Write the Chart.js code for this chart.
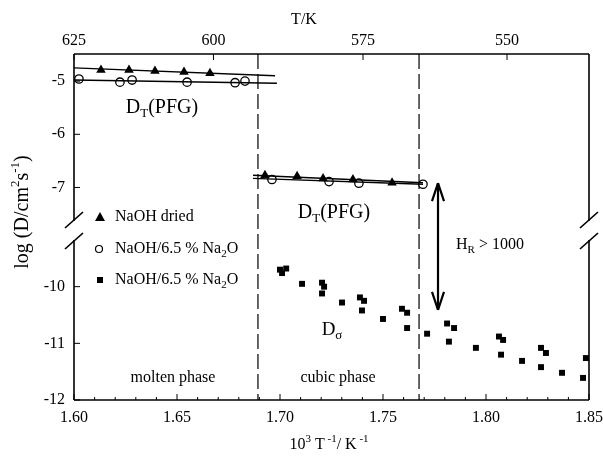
<!DOCTYPE html>
<html>
<head>
<meta charset="utf-8">
<script src="https://cdn.jsdelivr.net/npm/chart.js@4.4.1/dist/chart.umd.min.js"></script>
<style>
  html, body { margin: 0; padding: 0; background: #fff; }
  #contenedor { width: 603px; height: 458px; }
</style>
</head>
<body>
<div id="contenedor"><canvas id="grafico"></canvas></div>
<script>
// NaOH seco (triangulos), fase fundida y fase cubica
const trianguloX = [1.6131, 1.6267, 1.6393, 1.6534, 1.666, 1.6927, 1.7083, 1.7209, 1.7354, 1.7544];
const trianguloY = [-4.79, -4.79, -4.81, -4.83, -4.85, -6.77, -6.79, -6.83, -6.85, -6.91];
// NaOH/6.5 % Na2O (circulos abiertos)
const circuloX = [1.6024, 1.6223, 1.6282, 1.6549, 1.6782, 1.683, 1.6961, 1.7238, 1.7383, 1.7694];
const circuloY = [-4.96, -5.02, -4.98, -5.02, -5.03, -5.0, -6.85, -6.89, -6.92, -6.94];
// D sigma (cuadrados)
const cuadradoX = [1.7, 1.703, 1.701, 1.7107, 1.7204, 1.7214, 1.7204, 1.7301, 1.7388, 1.7408,
  1.7398, 1.75, 1.7592, 1.7617, 1.7617, 1.7714, 1.7811, 1.7845, 1.782, 1.7951,
  1.8063, 1.8083, 1.8073, 1.8175, 1.8267, 1.8291, 1.8267, 1.8369, 1.8485, 1.8471];
const cuadradoY = [-9.7, -9.68, -9.76, -9.95, -9.93, -10.0, -10.12, -10.28, -10.19, -10.25,
  -10.42, -10.57, -10.39, -10.46, -10.73, -10.83, -10.65, -10.73, -10.97, -11.08,
  -10.88, -10.94, -11.2, -11.31, -11.08, -11.17, -11.42, -11.52, -11.26, -11.61];

// rectas de ajuste (extremos)
const ajusteFundidoTriX = [1.6, 1.6976];
const ajusteFundidoTriY = [-4.75, -4.9];
const ajusteFundidoCircX = [1.6, 1.6985];
const ajusteFundidoCircY = [-4.98, -5.04];
const ajusteCubicoTriX = [1.6869, 1.7694];
const ajusteCubicoTriY = [-6.77, -6.91];
const ajusteCubicoCircX = [1.6869, 1.7694];
const ajusteCubicoCircY = [-6.83, -6.94];

// transiciones de fase y flecha H_R
const transiciones = [1.6893, 1.7675];
const flechaX = 1.7767;
const flechaArriba = -6.92;
const flechaAbajo = -10.41;

// ejes
const ticksX = [1.6, 1.65, 1.7, 1.75, 1.8, 1.85];
const posicionesT = [1.6, 1.6677, 1.7403, 1.8102];
const etiquetasT = ["625", "600", "575", "550"];
const ticksArriba = [-5, -6, -7];
const ticksAbajo = [-10, -11, -12];

const fuente = "Liberation Serif, Times New Roman, serif";
Chart.defaults.font.family = fuente;
Chart.defaults.font.size = 16;
Chart.defaults.color = "#000";

const puntos = (xs, ys) => xs.map((x, i) => ({ x: x, y: ys[i] }));

// texto con subindices / superindices: [texto, modo] modo 1 = sup, -1 = sub
const textoRico = (ctx, partes, x, y, size) => {
  const anchos = partes.map(([t, m]) => {
    ctx.font = `${m ? Math.round(size * 0.66) : size}px ${fuente}`;
    return ctx.measureText(t).width;
  });
  let cx = x - anchos.reduce((a, b) => a + b, 0) / 2;
  ctx.textAlign = "left";
  ctx.textBaseline = "middle";
  partes.forEach(([t, m], i) => {
    ctx.font = `${m ? Math.round(size * 0.66) : size}px ${fuente}`;
    const dy = m === 1 ? -size * 0.36 : m === -1 ? size * 0.3 : 0;
    ctx.fillText(t, cx, y + dy);
    cx += anchos[i];
  });
};

const linea = (ctx, x1, y1, x2, y2) => {
  ctx.beginPath();
  ctx.moveTo(x1, y1);
  ctx.lineTo(x2, y2);
  ctx.stroke();
};

// sin relleno extra por las etiquetas de los extremos
const sinRelleno = (s) => {
  s.paddingLeft = 0;
  s.paddingRight = 0;
  s.paddingTop = 0;
  s.paddingBottom = 0;
};

const decorado = {
  id: "decorado",
  beforeDatasetsDraw(chart) {
    const { ctx, chartArea: a, scales } = chart;
    ctx.save();
    ctx.strokeStyle = "#000";
    ctx.lineWidth = 1.2;
    ctx.setLineDash([15, 5]);
    transiciones.forEach((t) => {
      const x = scales.x.getPixelForValue(t);
      linea(ctx, x, a.top, x, a.bottom);
    });
    ctx.restore();
  },
  afterDraw(chart) {
    const { ctx, chartArea: a, scales } = chart;
    const sx = scales.x;
    const corte = scales.yArriba.bottom;
    ctx.save();
    ctx.strokeStyle = "#000";
    ctx.fillStyle = "#000";
    ctx.lineWidth = 1.6;
    // marco con el corte del eje
    linea(ctx, a.left, a.top, a.right, a.top);
    linea(ctx, a.left, a.bottom, a.right, a.bottom);
    [a.left, a.right].forEach((x) => {
      linea(ctx, x, a.top, x, corte - 9);
      linea(ctx, x, corte + 10, x, a.bottom);
      linea(ctx, x - 9, corte - 2, x + 9, corte - 18);
      linea(ctx, x - 9, corte + 19, x + 9, corte + 3);
    });
    // marcas hacia adentro
    ctx.lineWidth = 1;
    for (let i = 0; i <= 25; i++) {
      const x = sx.getPixelForValue(1.6 + i * 0.01);
      linea(ctx, x, a.bottom, x, a.bottom - (i % 5 === 0 ? 6 : 3));
    }
    posicionesT.forEach((v) => {
      const x = sx.getPixelForValue(v);
      linea(ctx, x, a.top, x, a.top + 6);
    });
    ticksArriba.forEach((v) => {
      const y = scales.yArriba.getPixelForValue(v);
      linea(ctx, a.left, y, a.left + 6, y);
    });
    ticksAbajo.forEach((v) => {
      const y = scales.yAbajo.getPixelForValue(v);
      linea(ctx, a.left, y, a.left + 6, y);
    });

    // flecha doble H_R
    const fx = sx.getPixelForValue(flechaX);
    const f1 = scales.yArriba.getPixelForValue(flechaArriba);
    const f2 = scales.yAbajo.getPixelForValue(flechaAbajo);
    ctx.lineWidth = 2.2;
    linea(ctx, fx, f1, fx, f2);
    linea(ctx, fx - 6, f1 + 18, fx, f1);
    linea(ctx, fx + 6, f1 + 18, fx, f1);
    linea(ctx, fx - 6, f2 - 18, fx, f2);
    linea(ctx, fx + 6, f2 - 18, fx, f2);

    // textos
    textoRico(ctx, [["D", 0], ["T", -1], ["(PFG)", 0]], 162, 108, 20);
    textoRico(ctx, [["D", 0], ["T", -1], ["(PFG)", 0]], 334, 213, 20);
    textoRico(ctx, [["H", 0], ["R", -1], [" > 1000", 0]], 490, 245, 16);
    textoRico(ctx, [["D", 0], ["σ", -1]], 332, 330, 19);
    textoRico(ctx, [["molten phase", 0]], 173, 378, 16);
    textoRico(ctx, [["cubic phase", 0]], 338, 378, 16);
    textoRico(ctx, [["T/K", 0]], 304, 20, 16);
    textoRico(ctx, [["10", 0], ["3", 1], [" T", 0], [" -1", 1], ["/ K", 0], [" -1", 1]], 329, 445, 16);
    ctx.save();
    ctx.translate(23, 212);
    ctx.rotate(-Math.PI / 2);
    textoRico(ctx, [["log (D/cm", 0], ["2", 1], ["s", 0], ["-1", 1], [")", 0]], 0, 0, 20);
    ctx.restore();

    // leyenda
    const filas = [
      { y: 217, partes: [["NaOH dried", 0]] },
      { y: 249, partes: [["NaOH/6.5 % Na", 0], ["2", -1], ["O", 0]] },
      { y: 280, partes: [["NaOH/6.5 % Na", 0], ["2", -1], ["O", 0]] },
    ];
    ctx.lineWidth = 1.2;
    ctx.beginPath();
    ctx.moveTo(100, 212);
    ctx.lineTo(105, 221);
    ctx.lineTo(95, 221);
    ctx.closePath();
    ctx.fill();
    ctx.beginPath();
    ctx.arc(99, 249, 3.5, 0, Math.PI * 2);
    ctx.stroke();
    ctx.fillRect(97, 277, 6, 6);
    filas.forEach((f) => {
      const anchos = f.partes.map(([t, m]) => {
        ctx.font = `${m ? 11 : 16}px ${fuente}`;
        return ctx.measureText(t).width;
      });
      const total = anchos.reduce((p, q) => p + q, 0);
      textoRico(ctx, f.partes, 115 + total / 2, f.y, 16);
    });
    ctx.restore();
  },
};

const data = {
  datasets: [
    { type: "line", data: puntos(ajusteFundidoTriX, ajusteFundidoTriY), yAxisID: "yArriba", borderColor: "#000", borderWidth: 1.4, pointRadius: 0 },
    { type: "line", data: puntos(ajusteFundidoCircX, ajusteFundidoCircY), yAxisID: "yArriba", borderColor: "#000", borderWidth: 1.4, pointRadius: 0 },
    { type: "line", data: puntos(ajusteCubicoTriX, ajusteCubicoTriY), yAxisID: "yArriba", borderColor: "#000", borderWidth: 1.4, pointRadius: 0 },
    { type: "line", data: puntos(ajusteCubicoCircX, ajusteCubicoCircY), yAxisID: "yArriba", borderColor: "#000", borderWidth: 1.4, pointRadius: 0 },
    {
      label: "NaOH dried",
      data: puntos(trianguloX, trianguloY),
      yAxisID: "yArriba",
      pointStyle: "triangle",
      pointRadius: 5.5,
      backgroundColor: "#000",
      borderColor: "#000",
      borderWidth: 0,
    },
    {
      label: "NaOH/6.5 % Na2O",
      data: puntos(circuloX, circuloY),
      yAxisID: "yArriba",
      pointStyle: "circle",
      pointRadius: 4.2,
      backgroundColor: "#fff",
      borderColor: "#000",
      borderWidth: 1.3,
    },
    {
      label: "NaOH/6.5 % Na2O",
      data: puntos(cuadradoX, cuadradoY),
      yAxisID: "yAbajo",
      pointStyle: "rect",
      pointRadius: 4.2,
      backgroundColor: "#000",
      borderColor: "#000",
      borderWidth: 0,
    },
  ],
};

const config = {
  type: "scatter",
  data: data,
  options: {
    responsive: true,
    maintainAspectRatio: false,
    animation: false,
    layout: { padding: { left: 0, right: 14, top: 0, bottom: 0 } },
    plugins: { legend: { display: false }, tooltip: { enabled: false } },
    scales: {
      x: {
        type: "linear",
        position: "bottom",
        min: 1.6,
        max: 1.85,
        grid: { display: false, drawTicks: false },
        border: { display: false },
        afterBuildTicks: (s) => { s.ticks = ticksX.map((v) => ({ value: v })); },
        afterFit: (s) => { s.height = 58; sinRelleno(s); },
        ticks: { padding: 8, maxRotation: 0, autoSkip: false, callback: (v) => Number(v).toFixed(2) },
      },
      xT: {
        type: "linear",
        position: "top",
        min: 1.6,
        max: 1.85,
        grid: { display: false, drawTicks: false },
        border: { display: false },
        afterBuildTicks: (s) => { s.ticks = posicionesT.map((v) => ({ value: v })); },
        afterFit: (s) => { s.height = 54; sinRelleno(s); },
        ticks: { padding: 4, maxRotation: 0, autoSkip: false, callback: (v, i) => etiquetasT[i] },
      },
      // primero el tramo de abajo: el ultimo del stack queda arriba
      yAbajo: {
        type: "linear",
        position: "left",
        stack: "logD",
        stackWeight: 170,
        min: -12,
        max: -9,
        grid: { display: false, drawTicks: false },
        border: { display: false },
        afterBuildTicks: (s) => { s.ticks = ticksAbajo.map((v) => ({ value: v })); },
        afterFit: (s) => { s.width = 74; sinRelleno(s); },
        ticks: { padding: 9, callback: (v) => String(v) },
      },
      yArriba: {
        type: "linear",
        position: "left",
        stack: "logD",
        stackWeight: 176,
        min: -7.8,
        max: -4.49,
        grid: { display: false, drawTicks: false },
        border: { display: false },
        afterBuildTicks: (s) => { s.ticks = ticksArriba.map((v) => ({ value: v })); },
        afterFit: (s) => { s.width = 74; sinRelleno(s); },
        ticks: { padding: 9, callback: (v) => String(v) },
      },
    },
  },
  plugins: [decorado],
};

const elementoGrafico = document.getElementById("grafico");
var grafico = new Chart(elementoGrafico, config);
</script>
</body>
</html>
